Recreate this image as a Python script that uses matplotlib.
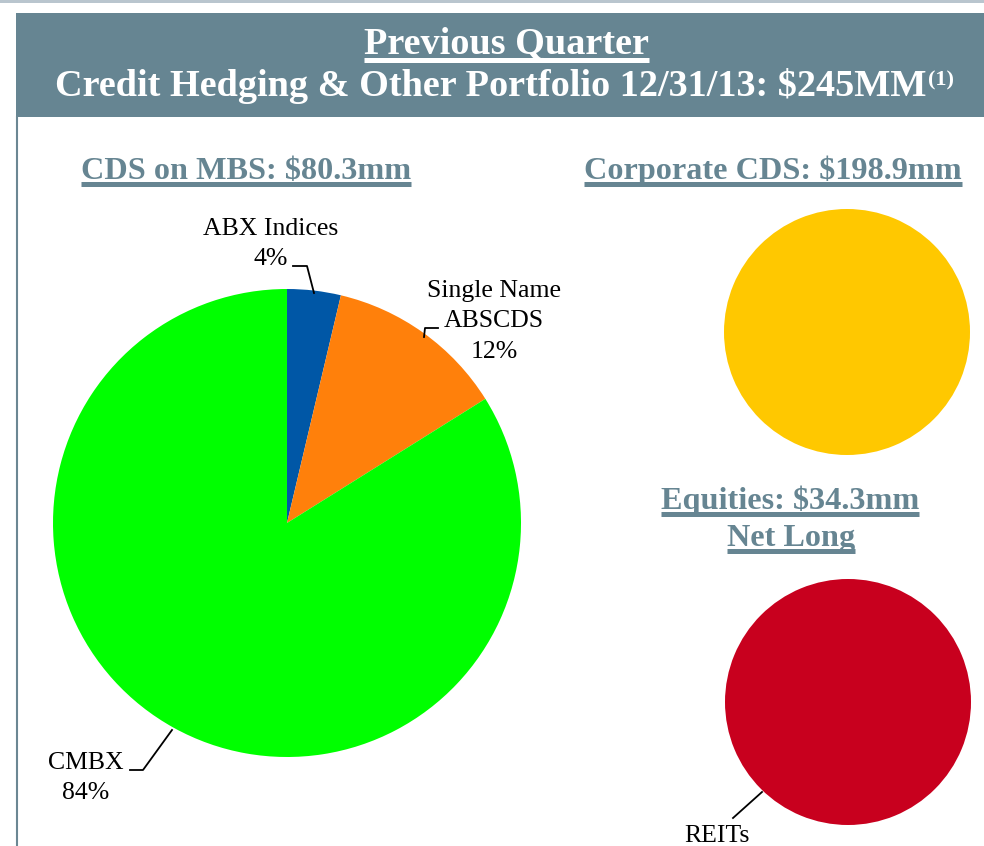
import matplotlib.pyplot as plt
from matplotlib.patches import Rectangle

plt.rcParams['font.family'] = ['Liberation Serif', 'DejaVu Serif']

# data
mbs_labels = ["ABX Indices", "Single Name\nABSCDS", "CMBX"]
mbs_values = [3.7, 12.4, 83.9]
mbs_colors = ["#0057A6", "#FF800B", "#00FF00"]
corp_values = [198.9]
equity_labels = ["REITs"]
equity_values = [34.3]

W, H = 984, 846
header = "#668592"

fig = plt.figure(figsize=(W / 100, H / 100), dpi=100)
ax = fig.add_axes([0, 0, 1, 1])


def Y(y):
    # picture rows run downward, the axes run upward
    return H - y


# pies (radius/centre in pixels)
ax.pie(mbs_values, colors=mbs_colors, startangle=90, counterclock=False,
       center=(287, Y(523)), radius=234, wedgeprops=dict(linewidth=0))
ax.pie(corp_values, colors=["#FFC800"], center=(847, Y(332)), radius=123,
       wedgeprops=dict(linewidth=0))
ax.pie(equity_values, colors=["#C8001E"], center=(848, Y(702)), radius=123,
       wedgeprops=dict(linewidth=0))

ax.set_xlim(0, W)
ax.set_ylim(0, H)
ax.set_aspect('auto')
ax.axis('off')

# frame bits
ax.add_patch(Rectangle((0, Y(3)), W, 3, color="#B9C5CE", lw=0))
ax.add_patch(Rectangle((16, Y(117)), W - 16, 104, color=header, lw=0))
ax.plot([17, 17], [Y(117), 0], color="#6B8793", lw=1.5)

texts_to_underline = []

t = ax.text(506, Y(44), "Previous Quarter", color="white", fontsize=27.5,
            fontweight="bold", ha="center", va="center")
texts_to_underline.append((t, "white", 5))
t2 = ax.text(491, Y(86), "Credit Hedging & Other Portfolio 12/31/13: $245MM",
             color="white", fontsize=27.5, fontweight="bold", ha="center", va="center")

heads = [(246, 171, "CDS on MBS: $80.3mm"),
         (773, 171, "Corporate CDS: $198.9mm"),
         (790, 501, "Equities: $34.3mm"),
         (791, 538, "Net Long")]
for x, y, s in heads:
    t = ax.text(x, Y(y), s, color=header, fontsize=23.2, fontweight="bold",
                ha="center", va="center")
    texts_to_underline.append((t, header, 5))

# pie labels
total = sum(mbs_values)
pct = [f"{v / total:.0%}" for v in mbs_values]
lab = dict(fontsize=18.5, ha="center", va="center", linespacing=1.5)
ax.text(271, Y(244), mbs_labels[0] + "\n" + pct[0], **lab)
ax.text(494, Y(321), mbs_labels[1] + "\n" + pct[1], **lab)
ax.text(86, Y(778), mbs_labels[2] + "\n" + pct[2], **lab)
ax.text(717, Y(842), equity_labels[0], fontsize=18.5, ha="center", va="baseline")

# leader lines
lk = dict(color="black", lw=1.3)
ax.plot([293, 307, 314], [Y(266), Y(266), Y(293)], **lk)
ax.plot([438, 425, 424], [Y(328), Y(328), Y(337)], **lk)
ax.plot([130, 143, 172], [Y(770), Y(770), Y(730)], **lk)
ax.plot([733, 762], [Y(818), Y(792)], **lk)

fig.canvas.draw()
r = fig.canvas.get_renderer()

# superscript after the second title line
bb = t2.get_window_extent(r)
ax.text(bb.x1 + 1, Y(80), "(1)", color="white", fontsize=16, fontweight="bold",
        ha="left", va="center")

for t, c, lw in texts_to_underline:
    bb = t.get_window_extent(r)
    yline = bb.y0 + 2
    ax.plot([bb.x0, bb.x1], [yline, yline], color=c, lw=lw * 0.72,
            solid_capstyle="butt")

fig.savefig("out.png", dpi=100)
